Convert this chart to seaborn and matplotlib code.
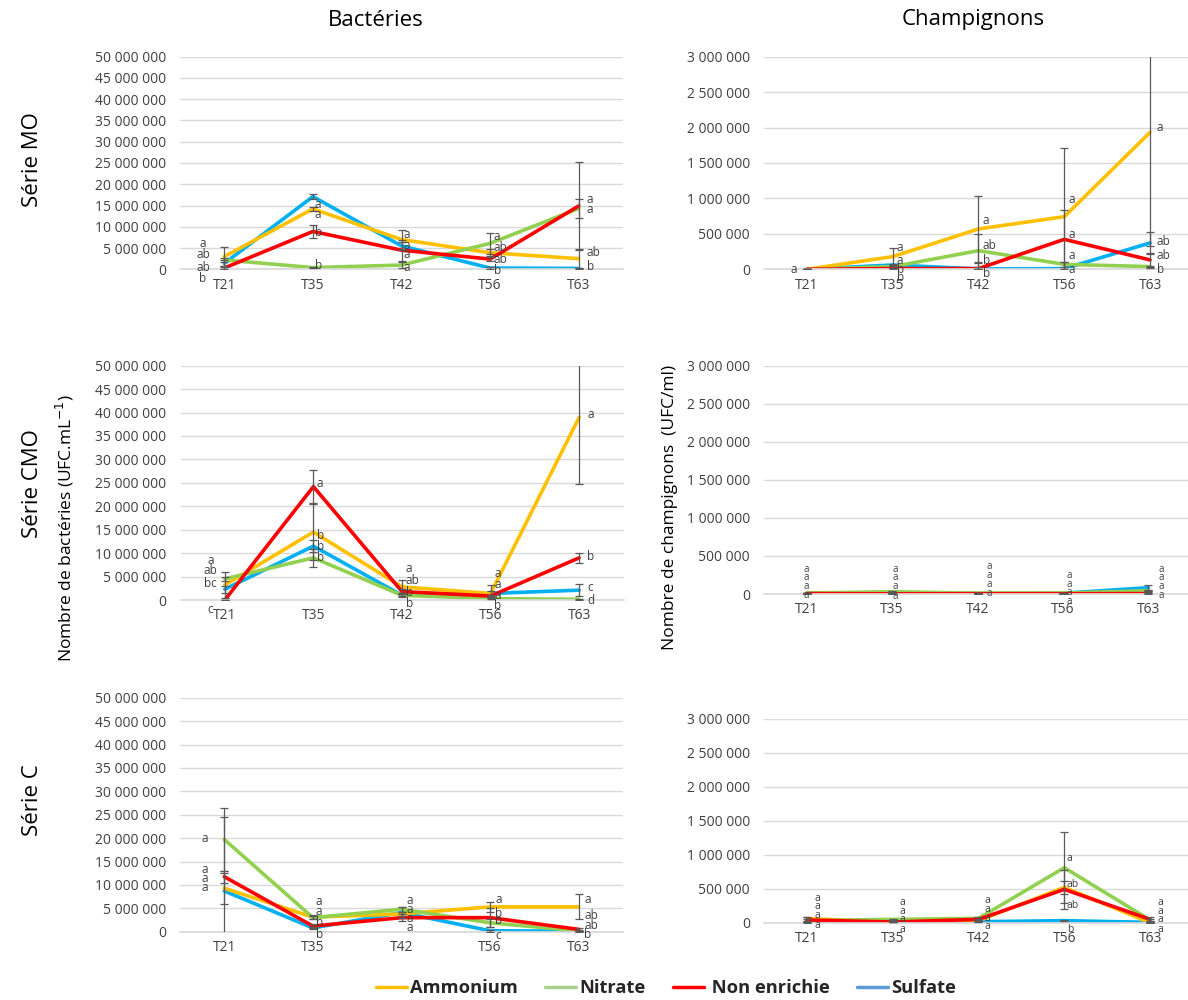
import numpy as np
import pandas as pd
import matplotlib
matplotlib.use("Agg")
import matplotlib.pyplot as plt
from matplotlib.lines import Line2D
import seaborn as sns

# Données
temps = ["T21", "T35", "T42", "T56", "T63"]
traitements = ["Ammonium", "Nitrate", "Non enrichie", "Sulfate"]

# Série MO - bactéries (millions UFC/mL)
mo_bact_amm = [3.0, 14.2, 7.0, 3.9, 2.5]
mo_bact_nit = [2.2, 0.4, 1.0, 6.1, 14.3]
mo_bact_non = [0.3, 8.9, 4.5, 2.4, 14.9]
mo_bact_sul = [1.4, 17.1, 5.5, 0.3, 0.2]
mo_bact_err_amm = [2.3, 0.5, 2.2, 0.8, 2.3]
mo_bact_err_nit = [0.4, 0.2, 0.7, 2.5, 2.3]
mo_bact_err_non = [0.3, 1.6, 2.5, 0.5, 10.3]
mo_bact_err_sul = [0.7, 0.6, 1.0, 0.3, 0.1]
mo_bact_lettres = [["a", "ab", "ab", "b"], ["a", "a", "b", "b"], ["a", "a", "a", "a"],
                   ["a", "ab", "ab", "b"], ["a", "a", "ab", "b"]]
mo_bact_lettres_y = [[6.0, 3.4, 0.5, -2.1], [15.2, 12.8, 8.7, 0.9], [8.3, 5.7, 3.4, 0.4],
                     [7.8, 5.2, 2.4, -0.3], [16.3, 14.0, 4.0, 0.6]]

# Série MO - champignons (milliers UFC/mL)
mo_champ_amm = [0, 179, 569, 743, 1933]
mo_champ_nit = [0, 38, 263, 70, 38]
mo_champ_non = [0, 10, 10, 423, 132]
mo_champ_sul = [0, 61, 5, 10, 372]
mo_champ_err_amm = [0, 127, 470, 970, 1600]
mo_champ_err_nit = [0, 20, 231, 40, 15]
mo_champ_err_non = [0, 10, 80, 415, 100]
mo_champ_err_sul = [0, 20, 5, 95, 150]
mo_champ_lettres = [["a"], ["a", "a", "b", "b"], ["a", "ab", "b", "b"],
                    ["a", "a", "a", "a"], ["a", "ab", "ab", "b"]]
mo_champ_lettres_y = [[0], [310, 130, 0, -110], [690, 333, 122, -56],
                      [987, 494, 188, 0], [2000, 390, 188, 0]]

# Série CMO - bactéries
cmo_bact_amm = [3.2, 14.5, 2.8, 1.4, 39.0]
cmo_bact_nit = [4.5, 9.0, 1.0, 0.3, 0.15]
cmo_bact_non = [0.0, 24.2, 1.8, 0.85, 9.0]
cmo_bact_sul = [2.3, 11.5, 1.0, 1.4, 2.1]
cmo_bact_err_amm = [2.8, 5.9, 1.5, 0.5, 14.3]
cmo_bact_err_nit = [0.5, 1.9, 0.2, 0.1, 0.1]
cmo_bact_err_non = [0.1, 3.5, 0.5, 0.3, 1.1]
cmo_bact_err_sul = [0.7, 1.2, 0.4, 1.7, 1.3]
cmo_bact_lettres = [["a", "ab", "bc", "c"], ["a", "b", "b", "b"], ["a", "ab", "b", "b"],
                    ["a", "a", "a", "b"], ["a", "b", "c", "d"]]
cmo_bact_lettres_y = [[8.4, 6.2, 3.6, -2.0], [24.9, 13.8, 11.5, 9.1], [6.7, 4.1, 1.7, -0.7],
                      [5.7, 3.4, 1.0, -1.2], [39.5, 9.2, 2.6, 0.0]]

# Série CMO - champignons
cmo_champ_amm = [10, 15, 8, 8, 30]
cmo_champ_nit = [12, 30, 10, 12, 44]
cmo_champ_non = [5, 2, 3, 3, 5]
cmo_champ_sul = [8, 20, 8, 10, 83]
cmo_champ_err_amm = [5, 5, 3, 3, 10]
cmo_champ_err_nit = [5, 8, 3, 5, 10]
cmo_champ_err_non = [3, 2, 2, 2, 3]
cmo_champ_err_sul = [5, 8, 3, 5, 30]
cmo_champ_lettres = [["a", "a", "a", "a"]] * 5
cmo_champ_lettres_y = [[324, 214, 96, -18], [324, 214, 96, -31], [359, 245, 127, 13],
                       [245, 131, 18, -100], [324, 214, 96, -18]]

# Série C - bactéries
c_bact_amm = [9.3, 3.1, 3.8, 5.3, 5.3]
c_bact_nit = [19.7, 3.0, 4.8, 1.9, 0.2]
c_bact_non = [11.75, 1.2, 3.0, 3.0, 0.5]
c_bact_sul = [8.7, 0.8, 4.1, 0.2, 0.1]
c_bact_err_amm = [3.3, 0.4, 0.5, 1.0, 2.65]
c_bact_err_nit = [6.7, 0.3, 0.5, 0.8, 0.1]
c_bact_err_non = [1.3, 0.5, 0.7, 2.0, 0.3]
c_bact_err_sul = [15.9, 0.3, 1.2, 0.2, 0.1]
c_bact_lettres = [["a", "a", "a", "a"], ["a", "a", "b", "b"], ["a", "a", "a", "a"],
                  ["a", "b", "b", "c"], ["a", "ab", "ab", "b"]]
c_bact_lettres_y = [[19.9, 13.2, 11.3, 9.4], [6.5, 4.4, 2.0, -0.6], [6.6, 4.7, 2.9, 1.0],
                    [6.8, 3.8, 2.4, -0.9], [6.8, 3.4, 1.4, -0.6]]

# Série C - champignons
c_champ_amm = [59, 15, 30, 520, 0]
c_champ_nit = [30, 49, 64, 810, 40]
c_champ_non = [40, 10, 49, 491, 49]
c_champ_sul = [15, 30, 15, 30, 5]
c_champ_err_amm = [30, 5, 10, 100, 5]
c_champ_err_nit = [20, 10, 20, 520, 20]
c_champ_err_non = [40, 5, 10, 285, 30]
c_champ_err_sul = [5, 5, 5, 10, 5]
c_champ_lettres = [["a", "a", "a", "a"], ["a", "a", "a", "a"], ["a", "a", "a", "a"],
                   ["a", "ab", "ab", "b"], ["a", "a", "a", "a"]]
c_champ_lettres_y = [[353, 236, 108, -34], [295, 172, 49, -98], [324, 196, 69, -59],
                     [947, 565, 260, -98], [295, 172, 49, -98]]

# Style
sns.set_theme(style="white")
plt.rcParams["font.family"] = ["Open Sans", "DejaVu Sans"]

couleurs = {"Ammonium": "#FFC000", "Nitrate": "#92D050",
            "Non enrichie": "#FF0000", "Sulfate": "#00B0F0"}
ordre = ["Sulfate", "Ammonium", "Nitrate", "Non enrichie"]
gris = "#404040"

W, H = 1188, 1000
fig = plt.figure(figsize=(W / 100, H / 100), dpi=100)


def px(x0, x1, y0, y1):
    # rectangle en pixels (origine en haut) -> coordonnées figure
    return [x0 / W, 1 - y1 / H, (x1 - x0) / W, (y1 - y0) / H]


def panneau(rect, valeurs, erreurs, echelle, ymax, ystep, lettres, lettres_y,
            dx, ha, fs_lettre):
    ax = fig.add_axes(rect)
    lignes = []
    for trt, vals in zip(traitements, valeurs):
        for i, v in enumerate(vals):
            lignes.append({"pos": i, "val": v * echelle, "trt": trt})
    df = pd.DataFrame(lignes)
    sns.lineplot(data=df, x="pos", y="val", hue="trt", hue_order=ordre,
                 palette=couleurs, linewidth=2.6, errorbar=None, legend=False,
                 ax=ax, zorder=2)
    for trt in ordre:
        k = traitements.index(trt)
        ax.errorbar(range(5), np.array(valeurs[k]) * echelle,
                    yerr=np.array(erreurs[k]) * echelle, fmt="none",
                    ecolor="#595959", elinewidth=0.9, capsize=3, capthick=0.9,
                    zorder=3)
    ax.set_xlim(-0.5, 4.5)
    ax.set_ylim(0, ymax)
    ticks = np.arange(0, ymax + 1, ystep)
    ax.set_yticks(ticks)
    ax.set_yticklabels([f"{t:,.0f}".replace(",", " ") for t in ticks])
    ax.set_xticks(range(5))
    ax.set_xticklabels(temps)
    ax.grid(axis="y", color="#D9D9D9", linewidth=1)
    ax.grid(axis="x", visible=False)
    for s in ["top", "right", "left"]:
        ax.spines[s].set_visible(False)
    ax.spines["bottom"].set_color("#D9D9D9")
    ax.tick_params(axis="y", length=0, labelsize=10, labelcolor=gris, pad=10)
    ax.tick_params(axis="x", length=0, labelsize=10, labelcolor=gris, pad=6)
    ax.set_xlabel("")
    ax.set_ylabel("")
    for i in range(5):
        for txt, y in zip(lettres[i], lettres_y[i]):
            ax.text(i + dx[i], y * echelle, txt, ha=ha[i], va="center",
                    fontsize=fs_lettre, color=gris, clip_on=False, zorder=4)
    return ax


# Série MO
panneau(px(180, 623, 56.7, 269.3),
        [mo_bact_amm, mo_bact_nit, mo_bact_non, mo_bact_sul],
        [mo_bact_err_amm, mo_bact_err_nit, mo_bact_err_non, mo_bact_err_sul],
        1e6, 50e6, 5e6, mo_bact_lettres, mo_bact_lettres_y,
        [-0.24, 0.02, 0.02, 0.04, 0.09], ["center", "left", "left", "left", "left"], 8.5)
panneau(px(764, 1193, 56.7, 269.3),
        [mo_champ_amm, mo_champ_nit, mo_champ_non, mo_champ_sul],
        [mo_champ_err_amm, mo_champ_err_nit, mo_champ_err_non, mo_champ_err_sul],
        1e3, 3e6, 5e5, mo_champ_lettres, mo_champ_lettres_y,
        [-0.15, 0.05, 0.05, 0.05, 0.08], ["center", "left", "left", "left", "left"], 8.5)

# Série CMO
panneau(px(180.5, 623.5, 365.7, 600),
        [cmo_bact_amm, cmo_bact_nit, cmo_bact_non, cmo_bact_sul],
        [cmo_bact_err_amm, cmo_bact_err_nit, cmo_bact_err_non, cmo_bact_err_sul],
        1e6, 50e6, 5e6, cmo_bact_lettres, cmo_bact_lettres_y,
        [-0.16, 0.04, 0.04, 0.04, 0.09], ["center", "left", "left", "left", "left"], 8.5)
panneau(px(764, 1191, 365.7, 594),
        [cmo_champ_amm, cmo_champ_nit, cmo_champ_non, cmo_champ_sul],
        [cmo_champ_err_amm, cmo_champ_err_nit, cmo_champ_err_non, cmo_champ_err_sul],
        1e3, 3e6, 5e5, cmo_champ_lettres, cmo_champ_lettres_y,
        [0.0, 0.04, 0.14, 0.08, 0.15], ["center"] * 5, 7)

# Série C
panneau(px(180, 623, 697.7, 931.7),
        [c_bact_amm, c_bact_nit, c_bact_non, c_bact_sul],
        [c_bact_err_amm, c_bact_err_nit, c_bact_err_non, c_bact_err_sul],
        1e6, 50e6, 5e6, c_bact_lettres, c_bact_lettres_y,
        [-0.22, 0.03, 0.06, 0.06, 0.06], ["center", "left", "left", "left", "left"], 8.5)
panneau(px(764, 1193, 719, 922.7),
        [c_champ_amm, c_champ_nit, c_champ_non, c_champ_sul],
        [c_champ_err_amm, c_champ_err_nit, c_champ_err_non, c_champ_err_sul],
        1e3, 3e6, 5e5, c_champ_lettres, c_champ_lettres_y,
        [0.12, 0.11, 0.1, 0.03, 0.12], ["center", "center", "center", "left", "center"], 7.5)

# Titres de colonnes et de lignes
fig.text(376 / W, 1 - 20 / H, "Bactéries", ha="center", va="center", fontsize=16, color="black")
fig.text(973 / W, 1 - 20 / H, "Champignons", ha="center", va="center", fontsize=16, color="black")
for lab, yc in [("Série MO", 160), ("Série CMO", 484), ("Série C", 800)]:
    fig.text(33 / W, 1 - yc / H, lab, rotation=90, ha="center", va="center",
             fontsize=16, color="black")

fig.text(65 / W, 1 - 528 / H, "Nombre de bactéries (UFC.mL$^{-1}$)", rotation=90,
         ha="center", va="center", fontsize=12.5, color="black")
fig.text(670 / W, 1 - 507 / H, "Nombre de champignons  (UFC/ml)", rotation=90,
         ha="center", va="center", fontsize=12.5, color="black")

# Légende
poignees = [Line2D([], [], color="#FFC000", lw=2.5),
            Line2D([], [], color="#A9D18E", lw=2.5),
            Line2D([], [], color="#FF0000", lw=2.5),
            Line2D([], [], color="#5B9BD5", lw=2.5)]
fig.legend(poignees, ["Ammonium", "Nitrate", " Non enrichie", "Sulfate"],
           loc="center", bbox_to_anchor=(666 / W, 1 - 988 / H), ncol=4, frameon=False,
           prop={"weight": "bold", "size": 13.2}, handlelength=1.7, handletextpad=0.15,
           columnspacing=1.5)

fig.savefig("out.png", dpi=100)
